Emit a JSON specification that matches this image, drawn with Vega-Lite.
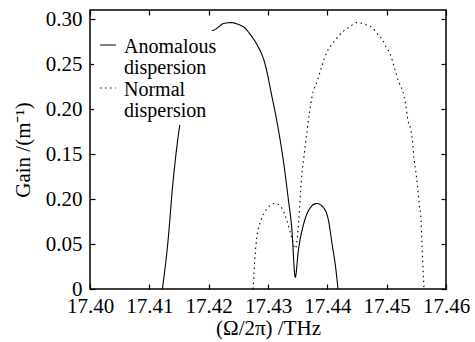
{
  "$schema": "https://vega.github.io/schema/vega-lite/v6.json",
  "width": 356,
  "height": 279,
  "autosize": "none",
  "padding": {"left": 90, "top": 10, "right": 29, "bottom": 53},
  "background": "white",
  "config": {
    "font": "Liberation Serif",
    "view": {"stroke": "black", "strokeWidth": 1.5},
    "axis": {
      "domain": false,
      "grid": false,
      "ticks": true,
      "zindex": 1,
      "offset": -5,
      "tickColor": "black",
      "tickSize": 5,
      "tickWidth": 1.2,
      "labelFont": "Liberation Serif",
      "titleFont": "Liberation Serif",
      "labelColor": "black",
      "labelFontSize": 21,
      "titleColor": "black",
      "titleFontSize": 21,
      "titleFontWeight": "normal"
    },
    "legend": {
      "labelFont": "Liberation Serif"
    }
  },
  "data": {
    "values": [
      {"f": 17.4122, "g": 0, "s": "Anomalous"},
      {"f": 17.4131, "g": 0.05, "s": "Anomalous"},
      {"f": 17.41395, "g": 0.116, "s": "Anomalous"},
      {"f": 17.4151, "g": 0.181, "s": "Anomalous"},
      {"f": 17.4165, "g": 0.228, "s": "Anomalous"},
      {"f": 17.418, "g": 0.26, "s": "Anomalous"},
      {"f": 17.4198, "g": 0.282, "s": "Anomalous"},
      {"f": 17.42147, "g": 0.29, "s": "Anomalous"},
      {"f": 17.4225, "g": 0.295, "s": "Anomalous"},
      {"f": 17.4238, "g": 0.296, "s": "Anomalous"},
      {"f": 17.425, "g": 0.294, "s": "Anomalous"},
      {"f": 17.4261, "g": 0.29, "s": "Anomalous"},
      {"f": 17.4271, "g": 0.282, "s": "Anomalous"},
      {"f": 17.4281, "g": 0.272, "s": "Anomalous"},
      {"f": 17.4295, "g": 0.25, "s": "Anomalous"},
      {"f": 17.4306, "g": 0.216, "s": "Anomalous"},
      {"f": 17.4317, "g": 0.179, "s": "Anomalous"},
      {"f": 17.4326, "g": 0.142, "s": "Anomalous"},
      {"f": 17.4334, "g": 0.101, "s": "Anomalous"},
      {"f": 17.434, "g": 0.068, "s": "Anomalous"},
      {"f": 17.4346, "g": 0.013, "s": "Anomalous"},
      {"f": 17.4351, "g": 0.042, "s": "Anomalous"},
      {"f": 17.436, "g": 0.072, "s": "Anomalous"},
      {"f": 17.4371, "g": 0.09, "s": "Anomalous"},
      {"f": 17.4382, "g": 0.095, "s": "Anomalous"},
      {"f": 17.4394, "g": 0.09, "s": "Anomalous"},
      {"f": 17.4402, "g": 0.076, "s": "Anomalous"},
      {"f": 17.4408, "g": 0.05, "s": "Anomalous"},
      {"f": 17.4414, "g": 0.024, "s": "Anomalous"},
      {"f": 17.4418, "g": 0, "s": "Anomalous"},
      {"f": 17.4275, "g": 0, "s": "Normal"},
      {"f": 17.4278, "g": 0.035, "s": "Normal"},
      {"f": 17.4281, "g": 0.057, "s": "Normal"},
      {"f": 17.4288, "g": 0.076, "s": "Normal"},
      {"f": 17.4298, "g": 0.089, "s": "Normal"},
      {"f": 17.4312, "g": 0.095, "s": "Normal"},
      {"f": 17.4323, "g": 0.09, "s": "Normal"},
      {"f": 17.4332, "g": 0.076, "s": "Normal"},
      {"f": 17.434, "g": 0.057, "s": "Normal"},
      {"f": 17.4346, "g": 0.045, "s": "Normal"},
      {"f": 17.4353, "g": 0.087, "s": "Normal"},
      {"f": 17.4355, "g": 0.109, "s": "Normal"},
      {"f": 17.4357, "g": 0.127, "s": "Normal"},
      {"f": 17.436, "g": 0.144, "s": "Normal"},
      {"f": 17.4363, "g": 0.161, "s": "Normal"},
      {"f": 17.4366, "g": 0.177, "s": "Normal"},
      {"f": 17.437, "g": 0.196, "s": "Normal"},
      {"f": 17.4374, "g": 0.213, "s": "Normal"},
      {"f": 17.4383, "g": 0.231, "s": "Normal"},
      {"f": 17.4391, "g": 0.248, "s": "Normal"},
      {"f": 17.4399, "g": 0.263, "s": "Normal"},
      {"f": 17.4408, "g": 0.272, "s": "Normal"},
      {"f": 17.4419, "g": 0.281, "s": "Normal"},
      {"f": 17.4428, "g": 0.287, "s": "Normal"},
      {"f": 17.4439, "g": 0.292, "s": "Normal"},
      {"f": 17.445, "g": 0.296, "s": "Normal"},
      {"f": 17.4463, "g": 0.294, "s": "Normal"},
      {"f": 17.4476, "g": 0.29, "s": "Normal"},
      {"f": 17.4485, "g": 0.283, "s": "Normal"},
      {"f": 17.4493, "g": 0.277, "s": "Normal"},
      {"f": 17.4498, "g": 0.27, "s": "Normal"},
      {"f": 17.4506, "g": 0.261, "s": "Normal"},
      {"f": 17.4514, "g": 0.244, "s": "Normal"},
      {"f": 17.4521, "g": 0.229, "s": "Normal"},
      {"f": 17.4527, "g": 0.22, "s": "Normal"},
      {"f": 17.4532, "g": 0.205, "s": "Normal"},
      {"f": 17.4536, "g": 0.187, "s": "Normal"},
      {"f": 17.4541, "g": 0.176, "s": "Normal"},
      {"f": 17.4544, "g": 0.161, "s": "Normal"},
      {"f": 17.4546, "g": 0.146, "s": "Normal"},
      {"f": 17.4549, "g": 0.131, "s": "Normal"},
      {"f": 17.4552, "g": 0.114, "s": "Normal"},
      {"f": 17.4555, "g": 0.094, "s": "Normal"},
      {"f": 17.4558, "g": 0.076, "s": "Normal"},
      {"f": 17.4559, "g": 0.057, "s": "Normal"},
      {"f": 17.456, "g": 0.042, "s": "Normal"},
      {"f": 17.4561, "g": 0.027, "s": "Normal"},
      {"f": 17.4563, "g": 0, "s": "Normal"}
    ]
  },
  "layer": [
    {
      "mark": {"type": "line", "color": "black", "strokeWidth": 1.1, "interpolate": "monotone"},
      "encoding": {
        "x": {
          "field": "f", "type": "quantitative",
          "scale": {"domain": [17.4, 17.46], "nice": false, "zero": false},
          "axis": {"values": [17.4, 17.41, 17.42, 17.43, 17.44, 17.45, 17.46], "format": ".2f", "labelPadding": 6, "title": "(Ω/2π) /THz", "titlePadding": 1, "labelFlush": false}
        },
        "y": {
          "field": "g", "type": "quantitative",
          "scale": {"domain": [0, 0.31], "nice": false},
          "axis": {"values": [0, 0.05, 0.1, 0.15, 0.2, 0.25, 0.3], "labelExpr": "datum.value == 0 ? '0' : (abs(datum.value - 0.1) < 0.000001 ? '0.20' : format(datum.value, '.2f'))", "labelPadding": 8, "title": "Gain /(m⁻¹)", "titlePadding": 12, "labelFlush": false}
        },
        "strokeDash": {
          "field": "s", "type": "nominal",
          "scale": {"domain": ["Anomalous", "Normal"], "range": [[1, 0], [1.5, 3.5]]},
          "legend": {
            "orient": "none", "legendX": 4, "legendY": 21, "title": null,
            "symbolType": "stroke", "symbolSize": 250, "symbolStrokeColor": "black", "symbolStrokeWidth": 1.2,
            "labelFontSize": 20, "labelColor": "black", "labelExpr": "[datum.label, 'dispersion']",
            "labelBaseline": "top", "labelOffset": 6, "fillColor": "white", "padding": 4, "rowPadding": 0,
            "encode": {"labels": {"update": {"dy": {"value": -8}, "lineHeight": {"value": 21}}}}
          }
        }
      }
    },
    {
      "mark": {"type": "line", "opacity": 0},
      "encoding": {
        "x": {"field": "f", "type": "quantitative", "axis": {"orient": "top", "values": [17.4, 17.41, 17.42, 17.43, 17.44, 17.45, 17.46], "labels": false, "title": null}},
        "y": {"field": "g", "type": "quantitative", "axis": {"orient": "right", "values": [0, 0.05, 0.1, 0.15, 0.2, 0.25, 0.3], "labels": false, "title": null}}
      }
    }
  ],
  "resolve": {"axis": {"x": "independent", "y": "independent"}}
}
